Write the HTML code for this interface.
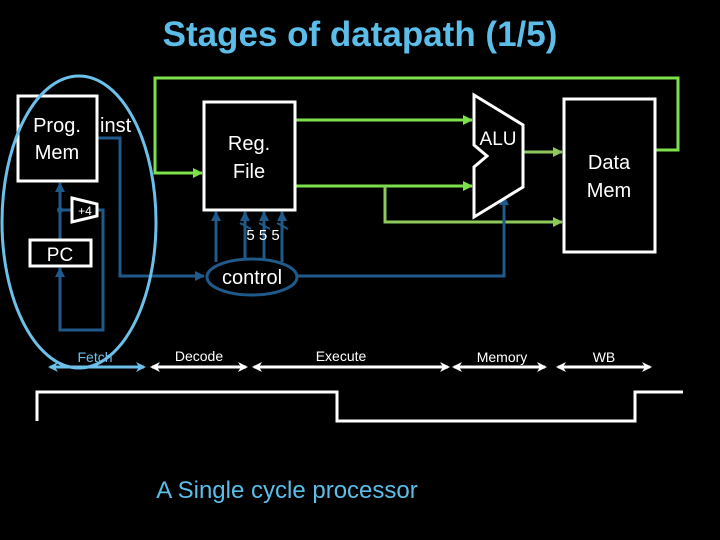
<!DOCTYPE html>
<html><head><style>
html,body{margin:0;padding:0;background:#000;width:720px;height:540px;overflow:hidden}
svg{display:block}
text{font-family:"Liberation Sans",sans-serif}
</style></head><body>
<svg width="720" height="540" viewBox="0 0 720 540">
<defs>
<marker id="ag" markerWidth="10" markerHeight="10" refX="9" refY="5" orient="auto" markerUnits="userSpaceOnUse"><path d="M0,0 L10,5 L0,10 z" fill="#7be04a"/></marker>
<marker id="ag2" markerWidth="10" markerHeight="10" refX="9" refY="5" orient="auto" markerUnits="userSpaceOnUse"><path d="M0,0 L10,5 L0,10 z" fill="#8dc85a"/></marker>
<marker id="ab" markerWidth="10" markerHeight="10" refX="9" refY="5" orient="auto" markerUnits="userSpaceOnUse"><path d="M0,0 L10,5 L0,10 z" fill="#1f5a8a"/></marker>
<marker id="aw" markerWidth="10" markerHeight="10" refX="8" refY="5" orient="auto-start-reverse" markerUnits="userSpaceOnUse"><path d="M0,0 L10,5 L0,10 L3,5 z" fill="#fff"/></marker>
<marker id="al" markerWidth="10" markerHeight="10" refX="8" refY="5" orient="auto-start-reverse" markerUnits="userSpaceOnUse"><path d="M0,0 L10,5 L0,10 L3,5 z" fill="#6cc0ea"/></marker>
</defs>
<text x="360" y="46" text-anchor="middle" font-size="35" font-weight="bold" fill="#5bbde8">Stages of datapath (1/5)</text>

<polyline points="656,150 678,150 678,78 155,78 155,173 202,173" fill="none" stroke="#7be04a" stroke-width="3" marker-end="url(#ag)"/>
<line x1="295" y1="120" x2="472" y2="120" stroke="#7be04a" stroke-width="3" marker-end="url(#ag)"/>
<line x1="295" y1="186" x2="472" y2="186" stroke="#7be04a" stroke-width="3" marker-end="url(#ag)"/>
<polyline points="385,186 385,222 562,222" fill="none" stroke="#8dc85a" stroke-width="3" marker-end="url(#ag2)"/>
<line x1="523" y1="152" x2="562" y2="152" stroke="#8dc85a" stroke-width="3" marker-end="url(#ag2)"/>

<polyline points="97,138 120,138 120,276 204,276" fill="none" stroke="#1f5a8a" stroke-width="3" marker-end="url(#ab)"/>
<polyline points="297,276 504,276 504,196" fill="none" stroke="#1f5a8a" stroke-width="3" marker-end="url(#ab)"/>
<line x1="216" y1="262" x2="216" y2="212" stroke="#1f5a8a" stroke-width="3" marker-end="url(#ab)"/>
<line x1="245" y1="262" x2="245" y2="212" stroke="#1f5a8a" stroke-width="3" marker-end="url(#ab)"/>
<line x1="264" y1="262" x2="264" y2="212" stroke="#1f5a8a" stroke-width="3" marker-end="url(#ab)"/>
<line x1="282" y1="262" x2="282" y2="212" stroke="#1f5a8a" stroke-width="3" marker-end="url(#ab)"/>
<g stroke="#1f5a8a" stroke-width="2"><line x1="240" y1="223" x2="251" y2="229"/><line x1="259" y1="223" x2="270" y2="229"/><line x1="277" y1="223" x2="288" y2="229"/></g>
<line x1="60" y1="239" x2="60" y2="183" stroke="#1f5a8a" stroke-width="3" marker-end="url(#ab)"/>
<line x1="60" y1="210" x2="72" y2="210" stroke="#1f5a8a" stroke-width="3"/>
<circle cx="60" cy="210" r="3" fill="#1f5a8a"/>
<polyline points="97,210 103,210 103,330 60,330 60,268" fill="none" stroke="#1f5a8a" stroke-width="3" marker-end="url(#ab)"/>

<rect x="18" y="96" width="79" height="85" fill="#000" stroke="#fff" stroke-width="3"/>
<text x="57" y="132" text-anchor="middle" font-size="20" fill="#fff">Prog.</text>
<text x="57" y="159" text-anchor="middle" font-size="20" fill="#fff">Mem</text>
<text x="100" y="132" font-size="20" fill="#fff">inst</text>
<rect x="204" y="102" width="91" height="108" fill="#000" stroke="#fff" stroke-width="3"/>
<text x="249" y="150" text-anchor="middle" font-size="20" fill="#fff">Reg.</text>
<text x="249" y="178" text-anchor="middle" font-size="20" fill="#fff">File</text>
<rect x="564" y="99" width="91" height="153" fill="#000" stroke="#fff" stroke-width="3"/>
<text x="609" y="169" text-anchor="middle" font-size="20" fill="#fff">Data</text>
<text x="609" y="197" text-anchor="middle" font-size="20" fill="#fff">Mem</text>
<polygon points="474,95 523,125 523,187 474,217 474,167 487,156 474,145" fill="#000" stroke="#fff" stroke-width="3"/>
<text x="498" y="145" text-anchor="middle" font-size="19" fill="#fff">ALU</text>
<rect x="30" y="240" width="61" height="26" fill="#000" stroke="#fff" stroke-width="3"/>
<text x="60" y="261" text-anchor="middle" font-size="19" fill="#fff">PC</text>
<polygon points="72,198 97,204 97,216 72,222" fill="#000" stroke="#fff" stroke-width="3"/>
<text x="85" y="215" text-anchor="middle" font-size="12" fill="#fff">+4</text>
<ellipse cx="252" cy="277" rx="45" ry="18" fill="#000" stroke="#1f5a8a" stroke-width="3"/>
<text x="252" y="284" text-anchor="middle" font-size="20" fill="#fff">control</text>
<text x="263" y="240" text-anchor="middle" font-size="15" fill="#fff">5 5 5</text>

<ellipse cx="79" cy="222" rx="77" ry="146" fill="none" stroke="#6cc0ea" stroke-width="3"/>

<g font-size="14" text-anchor="middle">
<text x="95" y="362" fill="#6cc0ea">Fetch</text>
<text x="199" y="361" fill="#fff">Decode</text>
<text x="341" y="361" fill="#fff">Execute</text>
<text x="502" y="362" fill="#fff">Memory</text>
<text x="604" y="362" fill="#fff">WB</text>
</g>
<line x1="50" y1="367" x2="144" y2="367" stroke="#6cc0ea" stroke-width="3" marker-start="url(#al)" marker-end="url(#al)"/>
<g stroke="#fff" stroke-width="3">
<line x1="152" y1="367" x2="246" y2="367" marker-start="url(#aw)" marker-end="url(#aw)"/>
<line x1="254" y1="367" x2="448" y2="367" marker-start="url(#aw)" marker-end="url(#aw)"/>
<line x1="454" y1="367" x2="545" y2="367" marker-start="url(#aw)" marker-end="url(#aw)"/>
<line x1="558" y1="367" x2="650" y2="367" marker-start="url(#aw)" marker-end="url(#aw)"/>
</g>
<polyline points="37,421 37,392 337,392 337,421 635,421 635,392 683,392" fill="none" stroke="#fff" stroke-width="3"/>
<text x="287" y="498" text-anchor="middle" font-size="24" fill="#5bbde8">A Single cycle processor</text>
</svg>
</body></html>
